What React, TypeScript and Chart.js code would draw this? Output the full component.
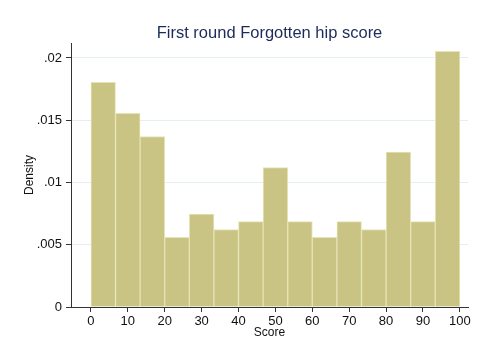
import React, { useEffect, useRef } from 'react';
import { Chart, registerables } from 'chart.js';

Chart.register(...registerables);

// Histogram bins (start of each bin, width of each bin)
const binStarts = [0, 6.6667, 13.3333, 20, 26.6667, 33.3333, 40, 46.6667, 53.3333, 60, 66.6667, 73.3333, 80, 86.6667, 93.3333];
const binWidth = 6.6667;
const densities = [0.01805, 0.01556, 0.01369, 0.0056, 0.00747, 0.00622, 0.00685, 0.0112, 0.00685, 0.0056, 0.00685, 0.00622, 0.01245, 0.00685, 0.02054];

const xTicks = [0, 10, 20, 30, 40, 50, 60, 70, 80, 90, 100];
const yTicks = [0, 0.005, 0.01, 0.015, 0.02];
const yTickLabels = ['0', '.005', '.01', '.015', '.02'];

const titleText = 'First round Forgotten hip score';
const xTitle = 'Score';
const yTitle = 'Density';

const FONT = '"Liberation Sans", Arial, Helvetica, sans-serif';
const AXIS = '#333333';
const GRID = '#e4eff1';

export default function App() {
  const ref = useRef<HTMLCanvasElement | null>(null);

  useEffect(() => {
    if (!ref.current) return;
    const data = binStarts.map((s, i) => ({ x: s + binWidth / 2, y: densities[i] }));
    const chart = new Chart(ref.current, {
      type: 'bar',
      data: {
        datasets: [
          {
            data,
            backgroundColor: 'rgb(201,196,131)',
            borderColor: 'rgb(230,227,182)',
            borderWidth: 1,
            barPercentage: 1,
            categoryPercentage: 1,
          } as any,
        ],
      },
      options: {
        responsive: false,
        animation: false,
        devicePixelRatio: 1,
        layout: { padding: { left: 0, right: 16, top: 0, bottom: 0 } },
        plugins: {
          legend: { display: false },
          tooltip: { enabled: false },
          title: {
            display: true,
            text: titleText,
            fullSize: false,
            color: '#1c2b5a',
            font: { family: FONT, size: 16.5, weight: 'normal', lineHeight: 1 },
            padding: { top: 25.5, bottom: 1 },
          } as any,
        },
        scales: {
          x: {
            type: 'linear',
            min: -5.4,
            max: 102.2,
            offset: false,
            afterBuildTicks: (scale: any) => {
              scale.ticks = xTicks.map((v) => ({ value: v }));
            },
            afterFit: (scale: any) => {
              scale.height = 53;
            },
            grid: {
              offset: false,
              drawOnChartArea: false,
              tickLength: 5,
              tickColor: AXIS,
            },
            border: { display: true, color: AXIS, width: 1 },
            ticks: {
              color: '#111',
              padding: 2,
              maxRotation: 0,
              autoSkip: false,
              font: { family: FONT, size: 13 },
            },
            title: {
              display: true,
              text: xTitle,
              color: '#111',
              font: { family: FONT, size: 12 },
              padding: { top: 0, bottom: 20 },
            },
          } as any,
          y: {
            type: 'linear',
            min: 0,
            max: 0.0212,
            afterBuildTicks: (scale: any) => {
              scale.ticks = yTicks.map((v) => ({ value: v }));
            },
            afterFit: (scale: any) => {
              scale.width = 71;
            },
            grid: {
              color: (ctx: any) => (ctx.tick && ctx.tick.value === 0 ? 'rgba(0,0,0,0)' : GRID),
              tickLength: 5,
              tickColor: AXIS,
            },
            border: { display: true, color: AXIS, width: 1 },
            ticks: {
              color: '#111',
              padding: 4,
              autoSkip: false,
              font: { family: FONT, size: 13 },
              callback: (_v: any, i: number) => yTickLabels[i],
            },
            title: {
              display: true,
              text: yTitle,
              color: '#111',
              font: { family: FONT, size: 12 },
              padding: { top: 22, bottom: 0 },
            },
          } as any,
        },
      },
    });
    return () => chart.destroy();
  }, []);

  return (
    <div style={{ position: 'absolute', left: 0, top: 0, width: 484, height: 360, background: '#fff' }}>
      <canvas ref={ref} width={484} height={360} style={{ display: 'block' }} />
    </div>
  );
}
